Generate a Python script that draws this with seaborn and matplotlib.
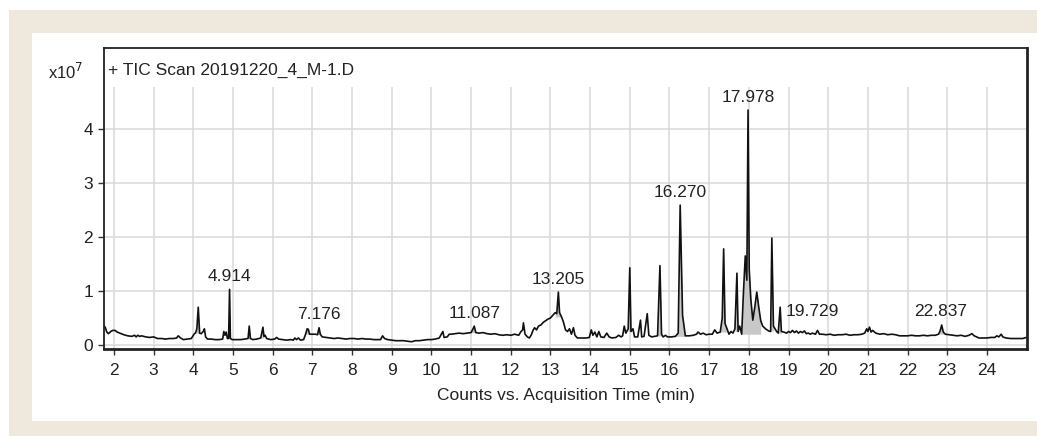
import numpy as np
import pandas as pd
import matplotlib.pyplot as plt
import seaborn as sns
from matplotlib.patches import Rectangle

# retention time (min) and counts (x1e7)
rt = [1.75, 1.78, 1.82, 1.86, 1.92, 1.97, 2.03, 2.08, 2.15, 2.25, 2.35, 2.45, 2.52, 2.56, 2.6, 2.65, 2.7, 2.8, 2.9, 3.0,
      3.1, 3.2, 3.3, 3.4, 3.5, 3.58, 3.62, 3.68, 3.75, 3.85, 3.95, 4.02, 4.06, 4.09, 4.125, 4.16, 4.2, 4.25, 4.28, 4.31,
      4.36, 4.45, 4.55, 4.65, 4.74, 4.77, 4.8, 4.83, 4.86, 4.89, 4.914, 4.935, 4.98, 5.1, 5.2, 5.3, 5.38, 5.41, 5.44, 5.5,
      5.6, 5.7, 5.755, 5.78, 5.81, 5.85, 5.95, 6.05, 6.1, 6.15, 6.25, 6.35, 6.45, 6.52, 6.56, 6.6, 6.65, 6.7, 6.78, 6.83,
      6.87, 6.9, 6.93, 7.0, 7.08, 7.13, 7.17, 7.2, 7.25, 7.35, 7.45, 7.55, 7.65, 7.75, 7.85, 7.95, 8.05, 8.15, 8.25, 8.35,
      8.45, 8.55, 8.65, 8.72, 8.77, 8.82, 8.9, 9.0, 9.1, 9.2, 9.3, 9.4, 9.5, 9.6, 9.7, 9.8, 9.9, 10.0, 10.1, 10.2,
      10.25, 10.29, 10.32, 10.4, 10.45, 10.5, 10.6, 10.7, 10.8, 10.9, 11.0, 11.05, 11.08, 11.12, 11.2, 11.3, 11.4, 11.5, 11.6, 11.7,
      11.8, 11.9, 12.0, 12.1, 12.2, 12.26, 12.3, 12.32, 12.36, 12.42, 12.47, 12.52, 12.56, 12.6, 12.65, 12.7, 12.76, 12.82, 12.88, 12.94,
      13.0, 13.06, 13.12, 13.16, 13.2, 13.23, 13.28, 13.33, 13.38, 13.43, 13.48, 13.53, 13.58, 13.62, 13.68, 13.8, 13.9, 13.98, 14.03, 14.07,
      14.12, 14.17, 14.22, 14.27, 14.35, 14.42, 14.48, 14.55, 14.65, 14.72, 14.78, 14.82, 14.86, 14.9, 14.96, 15.0, 15.03, 15.08, 15.12, 15.2,
      15.27, 15.3, 15.36, 15.44, 15.48, 15.55, 15.62, 15.7, 15.76, 15.8, 15.84, 15.9, 15.95, 16.05, 16.15, 16.22, 16.27, 16.33, 16.4, 16.5,
      16.6, 16.68, 16.72, 16.78, 16.85, 16.92, 17.0, 17.08, 17.14, 17.2, 17.28, 17.33, 17.365, 17.4, 17.45, 17.5, 17.55, 17.6, 17.65, 17.7,
      17.73, 17.77, 17.82, 17.86, 17.91, 17.95, 17.98, 18.01, 18.05, 18.1, 18.15, 18.2, 18.25, 18.3, 18.35, 18.42, 18.5, 18.55, 18.58, 18.62,
      18.66, 18.7, 18.74, 18.79, 18.82, 18.88, 18.95, 19.0, 19.05, 19.1, 19.15, 19.2, 19.25, 19.3, 19.35, 19.4, 19.45, 19.5, 19.55, 19.6,
      19.68, 19.73, 19.78, 19.85, 19.95, 20.05, 20.15, 20.25, 20.35, 20.45, 20.55, 20.65, 20.75, 20.85, 20.92, 20.97, 21.0, 21.04, 21.08, 21.12,
      21.2, 21.3, 21.4, 21.5, 21.6, 21.7, 21.8, 21.9, 22.0, 22.1, 22.2, 22.3, 22.4, 22.5, 22.6, 22.7, 22.78, 22.82, 22.86, 22.9,
      22.95, 23.05, 23.15, 23.25, 23.35, 23.45, 23.55, 23.62, 23.68, 23.8, 23.9, 24.0, 24.1, 24.2, 24.25, 24.3, 24.36, 24.4, 24.48, 24.6,
      24.7, 24.8, 24.9, 25.0]
counts = [0.35, 0.33, 0.24, 0.21, 0.25, 0.27, 0.27, 0.24, 0.22, 0.19, 0.17, 0.16, 0.18, 0.15, 0.18, 0.16, 0.17, 0.15, 0.14, 0.15,
          0.12, 0.12, 0.11, 0.12, 0.12, 0.13, 0.17, 0.13, 0.10, 0.11, 0.12, 0.20, 0.23, 0.30, 0.70, 0.22, 0.21, 0.25, 0.30, 0.15,
          0.11, 0.11, 0.10, 0.10, 0.11, 0.25, 0.18, 0.24, 0.12, 0.12, 1.03, 0.12, 0.10, 0.10, 0.10, 0.11, 0.12, 0.35, 0.12, 0.10,
          0.11, 0.13, 0.33, 0.16, 0.18, 0.12, 0.10, 0.11, 0.14, 0.11, 0.10, 0.09, 0.10, 0.09, 0.13, 0.10, 0.13, 0.09, 0.10, 0.20,
          0.30, 0.29, 0.20, 0.20, 0.20, 0.19, 0.32, 0.20, 0.15, 0.14, 0.13, 0.12, 0.13, 0.12, 0.11, 0.12, 0.12, 0.11, 0.12, 0.11,
          0.11, 0.10, 0.10, 0.10, 0.17, 0.12, 0.10, 0.09, 0.08, 0.08, 0.08, 0.07, 0.06, 0.08, 0.08, 0.09, 0.10, 0.10, 0.11, 0.13,
          0.20, 0.25, 0.14, 0.15, 0.20, 0.20, 0.21, 0.22, 0.21, 0.22, 0.23, 0.30, 0.35, 0.23, 0.22, 0.23, 0.21, 0.20, 0.21, 0.19,
          0.18, 0.19, 0.18, 0.20, 0.18, 0.25, 0.28, 0.41, 0.20, 0.15, 0.13, 0.19, 0.27, 0.32, 0.28, 0.35, 0.37, 0.42, 0.45, 0.48,
          0.50, 0.55, 0.60, 0.58, 0.98, 0.60, 0.52, 0.42, 0.28, 0.25, 0.30, 0.20, 0.32, 0.18, 0.13, 0.13, 0.13, 0.14, 0.28, 0.18,
          0.24, 0.15, 0.25, 0.15, 0.14, 0.22, 0.15, 0.13, 0.14, 0.18, 0.15, 0.17, 0.35, 0.22, 0.30, 1.43, 0.25, 0.30, 0.15, 0.15,
          0.46, 0.15, 0.16, 0.58, 0.18, 0.15, 0.16, 0.17, 1.47, 0.20, 0.15, 0.18, 0.15, 0.15, 0.16, 0.22, 2.59, 0.55, 0.17, 0.17,
          0.18, 0.20, 0.24, 0.20, 0.22, 0.19, 0.20, 0.20, 0.28, 0.22, 0.24, 0.50, 1.78, 0.40, 0.30, 0.20, 0.25, 0.22, 0.30, 1.33,
          0.25, 0.35, 0.20, 0.90, 1.65, 1.20, 4.35, 1.40, 0.85, 0.46, 0.70, 0.98, 0.70, 0.45, 0.35, 0.30, 0.26, 0.25, 1.98, 0.35,
          0.30, 0.25, 0.22, 0.70, 0.25, 0.24, 0.22, 0.25, 0.23, 0.27, 0.23, 0.26, 0.22, 0.25, 0.23, 0.26, 0.21, 0.22, 0.20, 0.22,
          0.20, 0.27, 0.20, 0.20, 0.19, 0.20, 0.18, 0.19, 0.19, 0.20, 0.18, 0.19, 0.19, 0.20, 0.22, 0.30, 0.25, 0.33, 0.24, 0.27,
          0.22, 0.20, 0.21, 0.19, 0.20, 0.19, 0.17, 0.17, 0.17, 0.18, 0.17, 0.17, 0.18, 0.17, 0.18, 0.18, 0.20, 0.26, 0.37, 0.24,
          0.20, 0.19, 0.18, 0.17, 0.18, 0.16, 0.18, 0.21, 0.17, 0.13, 0.13, 0.13, 0.14, 0.14, 0.17, 0.15, 0.20, 0.15, 0.13, 0.12,
          0.12, 0.12, 0.12, 0.14]

# integrated peak windows (shaded) and labelled retention times
peak_windows = [(4.06, 4.16), (4.89, 4.935), (5.38, 5.44), (5.7, 5.78), (6.83, 6.93), (7.13, 7.2), (11.0, 11.12),
                (13.12, 13.28), (14.96, 15.03), (15.7, 15.8), (16.15, 16.4), (17.28, 17.45), (17.65, 17.73),
                (17.82, 18.3), (18.5, 18.62), (18.74, 18.82), (22.78, 22.9)]
peak_labels = ["4.914", "7.176", "11.087", "13.205", "16.270", "17.978", "19.729", "22.837"]

df = pd.DataFrame({"rt": rt, "counts": counts})
t = df["rt"].to_numpy()
y = df["counts"].to_numpy()

sns.set_style("white")
plt.rcParams["font.family"] = ["Liberation Sans", "DejaVu Sans"]
fs = 12.5
txt_c = "#222222"
beige = "#efe8dd"

W, H = 1037, 436
fig = plt.figure(figsize=(W / 100, H / 100), dpi=100)
fig.patch.set_facecolor("white")


def band(x0, y0, x1, y1):
    # pixel box (top-left origin) -> figure fraction rectangle
    fig.patches.append(Rectangle((x0 / W, 1 - y1 / H), (x1 - x0) / W, (y1 - y0) / H,
                                 transform=fig.transFigure, facecolor=beige, edgecolor="none", zorder=-10))


band(9, 10, W, 33)    # top
band(9, 10, 32, H)    # left
band(9, 421, W, H)    # bottom

ax = fig.add_axes([104 / W, 1 - 349 / H, 923 / W, 301 / H])
ax.set_facecolor("white")

xticks = list(range(2, 25))
yticks = [0, 1, 2, 3, 4]
grid_c = "#d9d9d9"
ax.vlines(xticks, -0.074, 4.78, color=grid_c, lw=1.1, zorder=0)
for v in yticks:
    ax.axhline(v, color=grid_c, lw=1.1, zorder=0)

for a, b in peak_windows:
    m = (t >= a) & (t <= b)
    base = min(y[m][0], y[m][-1])
    ax.fill_between(t[m], y[m], base, color="#c8c8c8", lw=0, zorder=1)

sns.lineplot(data=df, x="rt", y="counts", ax=ax, color="#111111", lw=1.2, sort=False, estimator=None, zorder=2)

for lab in peak_labels:
    p = float(lab)
    m = (t > p - 0.06) & (t < p + 0.06)
    dx = -4 if lab == "19.729" else 0
    dy = 8 if lab == "19.729" else 4
    ax.annotate(lab, (p, y[m].max()), xytext=(dx, dy), textcoords="offset points",
                ha="center", va="bottom", fontsize=fs, color=txt_c)

ax.set_xlim(1.75, 25.01)
ax.set_ylim(-0.074, 5.5)
ax.set_xticks(xticks)
ax.set_yticks(yticks)
ax.tick_params(axis="both", direction="out", length=4, width=1, color="#333333",
               labelsize=fs, labelcolor=txt_c, left=True, bottom=True)
ax.tick_params(axis="x", pad=6)
ax.tick_params(axis="y", pad=4)
ax.set_xlabel("Counts vs. Acquisition Time (min)", fontsize=fs, color=txt_c, labelpad=7)
ax.set_ylabel("")
for s in ax.spines.values():
    s.set_color("#222222")
    s.set_linewidth(1.3)
ax.spines["bottom"].set_linewidth(2)
ax.spines["right"].set_linewidth(2)

ax.text(0.004, 0.927, "+ TIC Scan 20191220_4_M-1.D", transform=ax.transAxes, ha="left", va="center",
        fontsize=fs, color=txt_c)
fig.text(48 / W, 1 - 72 / H, "x10$^7$", ha="left", va="center", fontsize=fs - 0.5, color=txt_c)

fig.savefig("out.png", dpi=100)
